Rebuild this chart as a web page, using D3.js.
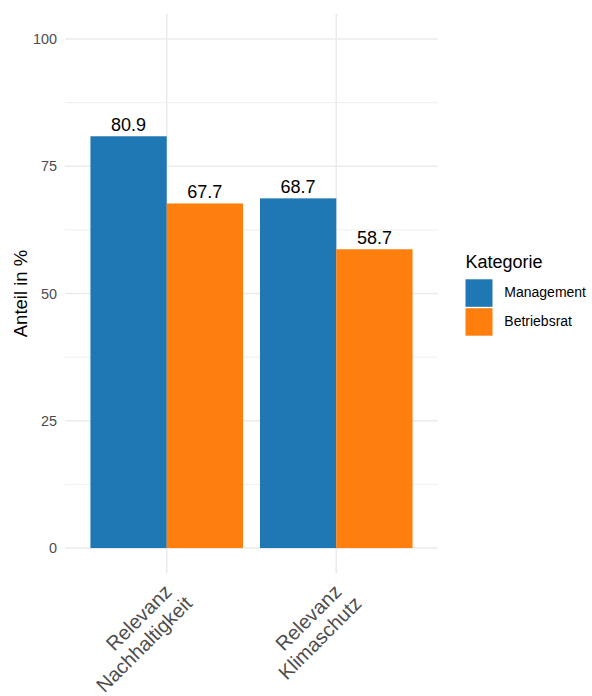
<!DOCTYPE html>
<html>
<head>
<meta charset="utf-8">
<script src="https://cdn.jsdelivr.net/npm/d3@7"></script>
<style>
  html, body { margin: 0; padding: 0; background: #ffffff; }
  svg { display: block; }
  text { font-family: "Liberation Sans", Arial, sans-serif; }
</style>
</head>
<body>
<svg id="chart" width="592" height="696"></svg>
<script>
const categories = ["Relevanz\nNachhaltigkeit", "Relevanz\nKlimaschutz"];
const seriesNames = ["Management", "Betriebsrat"];
const managementValues = [80.9, 68.7];
const betriebsratValues = [67.7, 58.7];
const seriesColors = ["#1f77b4", "#ff7f0e"];
const yTicks = [0, 25, 50, 75, 100];
const yMinorTicks = [12.5, 37.5, 62.5, 87.5];
const yTitle = "Anteil in %";
const legendTitle = "Kategorie";

const seriesValues = [managementValues, betriebsratValues];
const data = categories.map((c, i) => ({
  category: c,
  values: seriesNames.map((s, j) => ({ series: s, value: seriesValues[j][i] }))
}));

const svg = d3.select("#chart");
const panel = { left: 65, right: 438, top: 13.6, bottom: 573.5 };

const x = d3.scaleBand().domain(categories)
  .range([panel.left, panel.right]).paddingInner(0.1).paddingOuter(0.15);
const xInner = d3.scaleBand().domain(seriesNames).range([0, x.bandwidth()]).padding(0);
const y = d3.scaleLinear().domain([-5, 105]).range([panel.bottom, panel.top]);
const color = d3.scaleOrdinal().domain(seriesNames).range(seriesColors);

// grid
const grid = svg.append("g");
grid.selectAll("line.minor").data(yMinorTicks).join("line")
  .attr("x1", panel.left).attr("x2", panel.right)
  .attr("y1", d => y(d)).attr("y2", d => y(d))
  .attr("stroke", "#ebebeb").attr("stroke-width", 0.8);
grid.selectAll("line.major").data(yTicks).join("line")
  .attr("x1", panel.left).attr("x2", panel.right)
  .attr("y1", d => y(d)).attr("y2", d => y(d))
  .attr("stroke", "#ebebeb").attr("stroke-width", 1.6);
grid.selectAll("line.vx").data(categories).join("line")
  .attr("x1", d => x(d) + x.bandwidth() / 2).attr("x2", d => x(d) + x.bandwidth() / 2)
  .attr("y1", panel.top).attr("y2", panel.bottom)
  .attr("stroke", "#ebebeb").attr("stroke-width", 1.6);

// bars
const groups = svg.append("g").selectAll("g").data(data).join("g")
  .attr("transform", d => `translate(${x(d.category)},0)`);
groups.selectAll("rect").data(d => d.values).join("rect")
  .attr("x", d => xInner(d.series))
  .attr("width", xInner.bandwidth())
  .attr("y", d => y(d.value))
  .attr("height", d => y(0) - y(d.value))
  .attr("fill", d => color(d.series));
groups.selectAll("text").data(d => d.values).join("text")
  .attr("x", d => xInner(d.series) + xInner.bandwidth() / 2)
  .attr("y", d => y(d.value) - 5)
  .attr("text-anchor", "middle")
  .attr("font-size", 18)
  .attr("fill", "#000")
  .text(d => d3.format(".1f")(d.value));

// y axis labels
const yAxis = d3.axisLeft(y).tickValues(yTicks).tickSize(0).tickPadding(8);
const yg = svg.append("g").attr("transform", `translate(${panel.left},0)`).call(yAxis);
yg.select(".domain").remove();
yg.selectAll("text").attr("font-size", 14.4).attr("fill", "#4d4d4d")
  .attr("font-family", "Liberation Sans, Arial, sans-serif");

// x axis labels (rotated, two lines)
const xl = svg.append("g").selectAll("text").data(categories).join("text")
  .attr("text-anchor", "end")
  .attr("font-size", 20)
  .attr("fill", "#4d4d4d")
  .attr("transform", d => `translate(${x(d) + x.bandwidth() / 2 + 10.7},588.8) rotate(-45)`);
xl.selectAll("tspan").data(d => d.split("\n")).join("tspan")
  .attr("x", (d, i) => i === 0 ? -6 : 0)
  .attr("dy", (d, i) => i === 0 ? 0 : 22.5)
  .text(d => d);

// y title
svg.append("text")
  .attr("transform", `translate(27,${(panel.top + panel.bottom) / 2}) rotate(-90)`)
  .attr("text-anchor", "middle")
  .attr("font-size", 18.5)
  .attr("fill", "#000")
  .text(yTitle);

// legend
const legend = svg.append("g").attr("transform", "translate(465.5,0)");
legend.append("text").attr("x", 0).attr("y", 268.3).attr("font-size", 18).attr("fill", "#000")
  .text(legendTitle);
const items = legend.selectAll("g.item").data(seriesNames).join("g")
  .attr("transform", (d, i) => `translate(0,${279.3 + i * 28.9})`);
items.append("rect").attr("width", 27).attr("height", 27.5).attr("fill", d => color(d));
items.append("text").attr("x", 38.8).attr("y", 18)
  .attr("font-size", 14).attr("fill", "#000").text(d => d);
</script>
</body>
</html>
